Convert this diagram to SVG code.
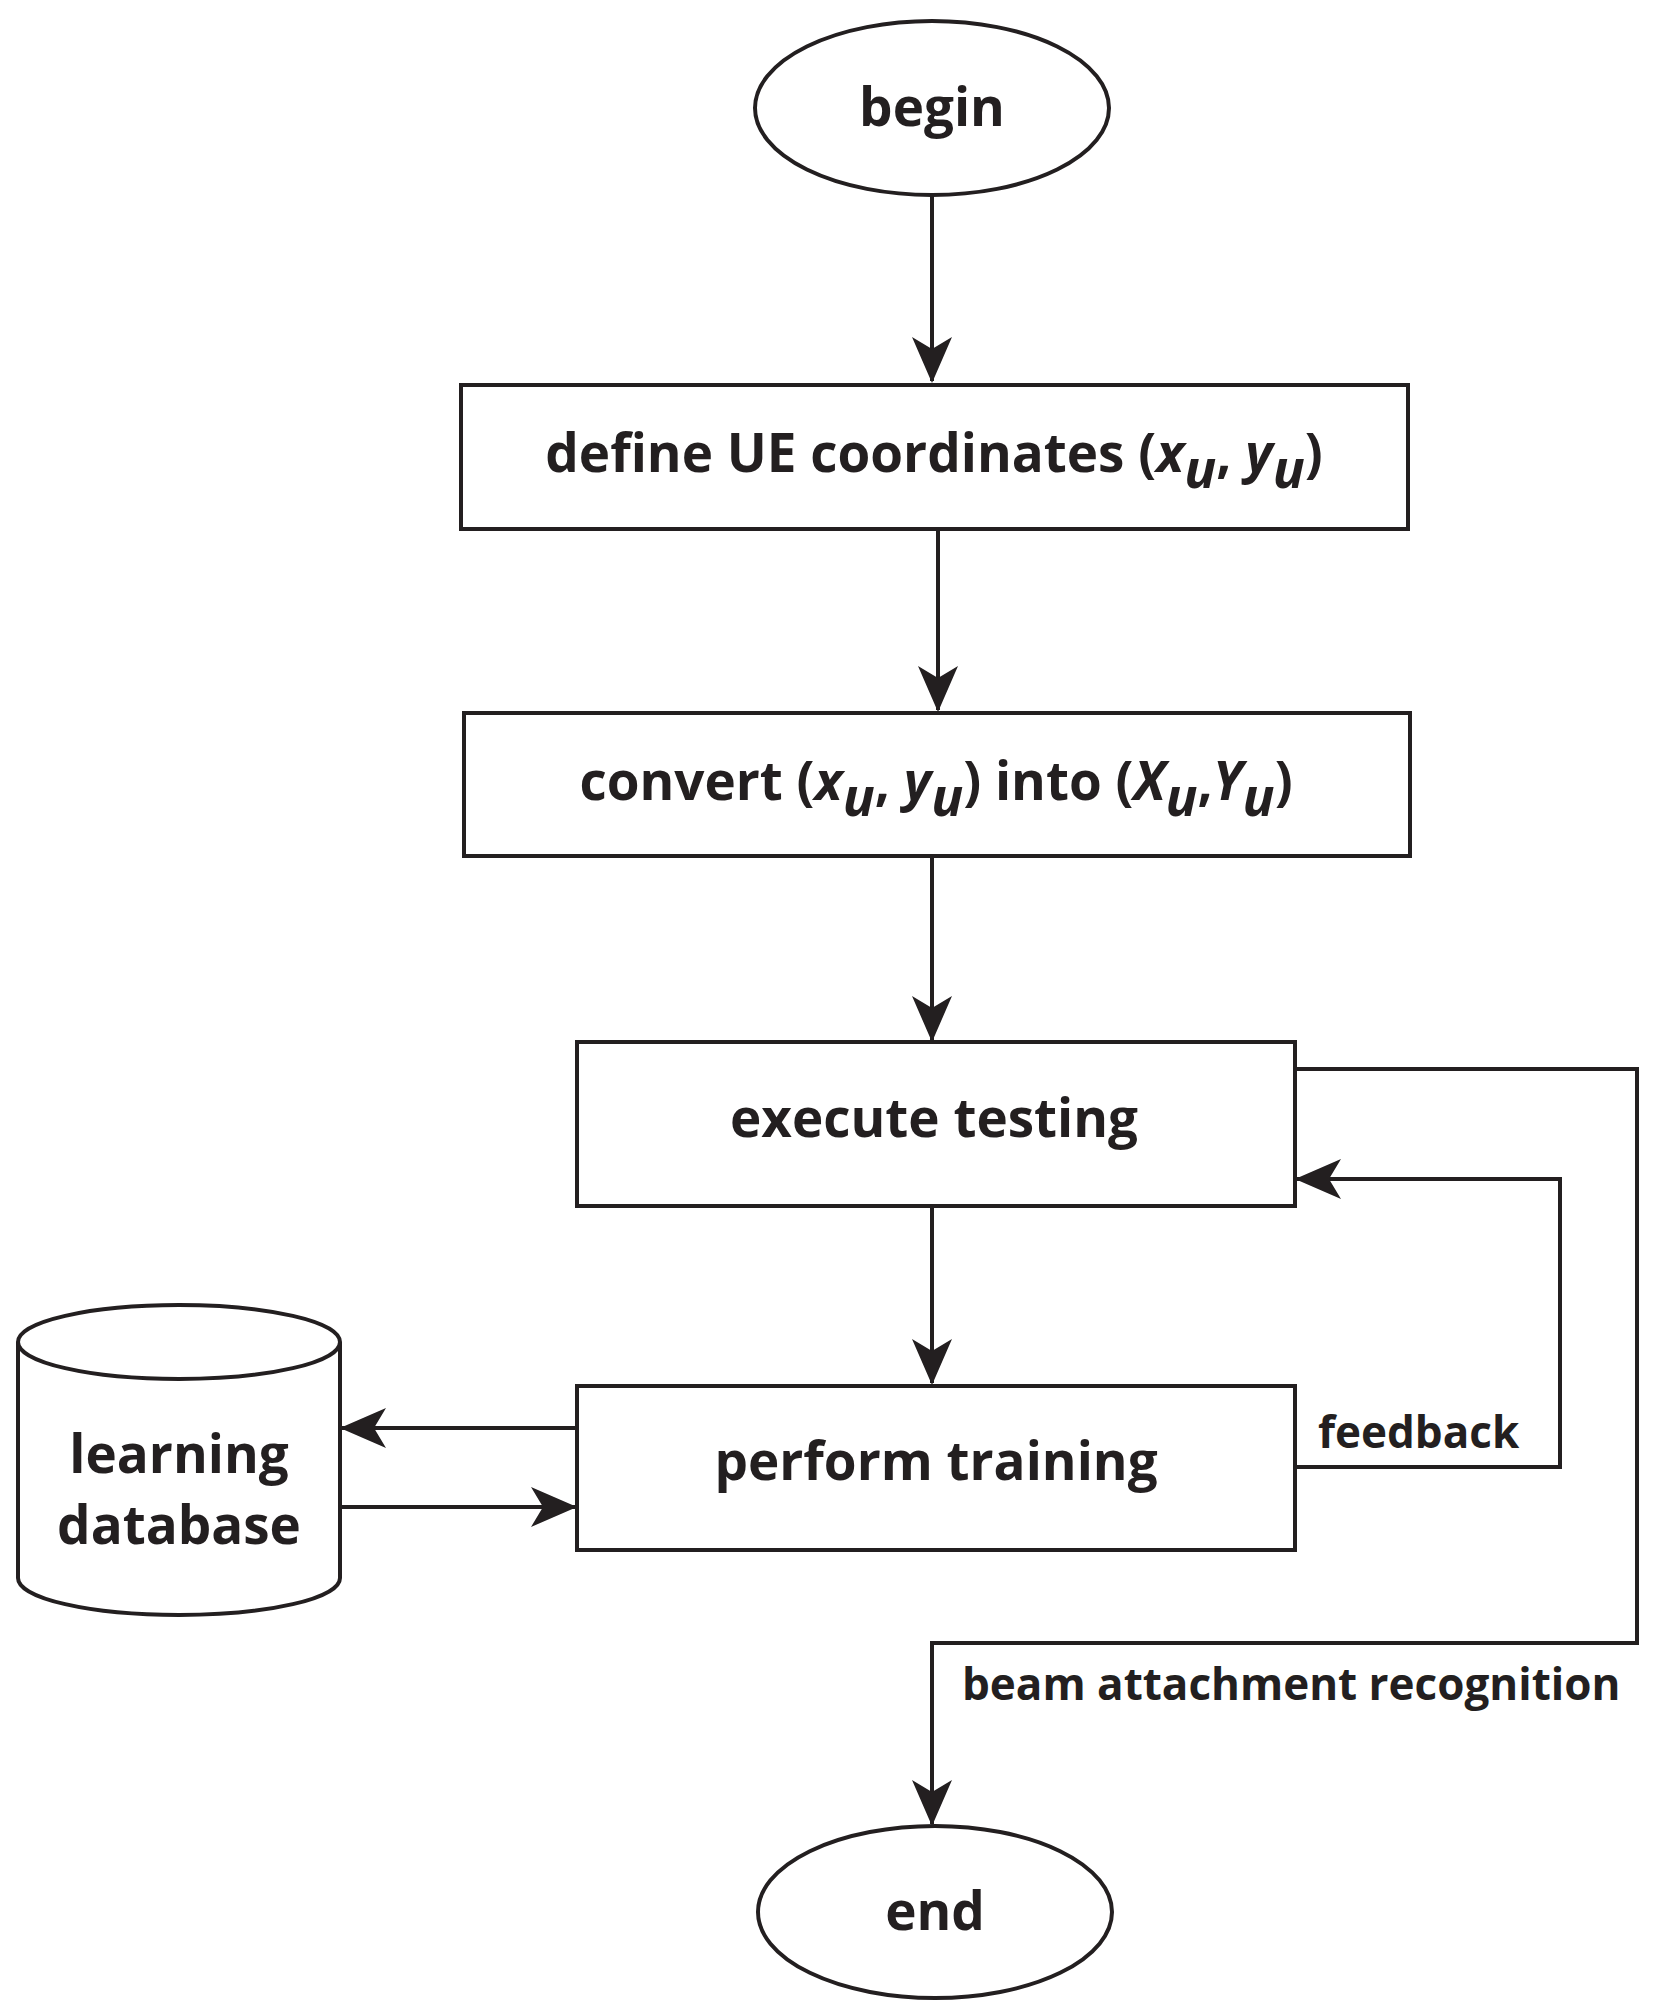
<svg xmlns="http://www.w3.org/2000/svg" width="1653" height="2016" viewBox="0 0 1653 2016">
<style>
.s{fill:#fff;stroke:#231f20;stroke-width:4}
.c{fill:none;stroke:#231f20;stroke-width:4}
.t{font-family:"Open Sans","Liberation Sans",sans-serif;font-weight:bold;font-size:53px;fill:#231f20;text-anchor:middle}
.l{font-family:"Open Sans","Liberation Sans",sans-serif;font-weight:bold;font-size:44px;fill:#231f20}
.i{font-style:italic}
</style>
<defs><marker id="b" markerWidth="46" markerHeight="40" refX="44" refY="20" orient="auto" markerUnits="userSpaceOnUse"><path d="M0,0L46,20L0,40L12,20z" fill="#231f20"/></marker></defs>
<g id="connectors">
<path class="c" d="M932,195V381" marker-end="url(#b)"/>
<path class="c" d="M938,529V710" marker-end="url(#b)"/>
<path class="c" d="M932,856V1040" marker-end="url(#b)"/>
<path class="c" d="M932,1206V1383" marker-end="url(#b)"/>
<path class="c" d="M577,1428H342" marker-end="url(#b)"/>
<path class="c" d="M340,1507H575" marker-end="url(#b)"/>
<path class="c" d="M1295,1467H1560V1179H1297" marker-end="url(#b)"/>
<path class="c" d="M1295,1069H1637V1643H932V1824" marker-end="url(#b)"/>
<text class="l" x="1318" y="1448">feedback</text>
<text class="l" x="962" y="1700">beam attachment recognition</text>
</g>
<g id="begin"><ellipse class="s" cx="932" cy="108" rx="177" ry="87"/><text class="t" x="932" y="126">begin</text></g>
<g id="define"><rect class="s" x="461" y="385" width="947" height="144"/><text class="t" x="934" y="472">define UE coordinates (<tspan class="i">x</tspan><tspan class="i" dy="16">u</tspan><tspan dy="-16">, </tspan><tspan class="i">y</tspan><tspan class="i" dy="16">u</tspan><tspan dy="-16">)</tspan></text></g>
<g id="convert"><rect class="s" x="464" y="713" width="946" height="143"/><text class="t" x="936" y="800">convert (<tspan class="i">x</tspan><tspan class="i" dy="16">u</tspan><tspan dy="-16">, </tspan><tspan class="i">y</tspan><tspan class="i" dy="16">u</tspan><tspan dy="-16">) into  (</tspan><tspan class="i">X</tspan><tspan class="i" dy="16">u</tspan><tspan dy="-16">,</tspan><tspan class="i">Y</tspan><tspan class="i" dy="16">u</tspan><tspan dy="-16">)</tspan></text></g>
<g id="execute"><rect class="s" x="577" y="1042" width="718" height="164"/><text class="t" x="934" y="1137">execute testing</text></g>
<g id="perform"><rect class="s" x="577" y="1386" width="718" height="164"/><text class="t" x="936" y="1480">perform training</text></g>
<g id="database"><path class="s" d="M18,1342V1578A161,37 0 0 0 340,1578V1342"/><ellipse class="s" cx="179" cy="1342" rx="161" ry="37"/><text class="t" x="179" y="1473">learning</text><text class="t" x="179" y="1544">database</text></g>
<g id="end"><ellipse class="s" cx="935" cy="1912" rx="177" ry="86"/><text class="t" x="935" y="1930">end</text></g>
</svg>
